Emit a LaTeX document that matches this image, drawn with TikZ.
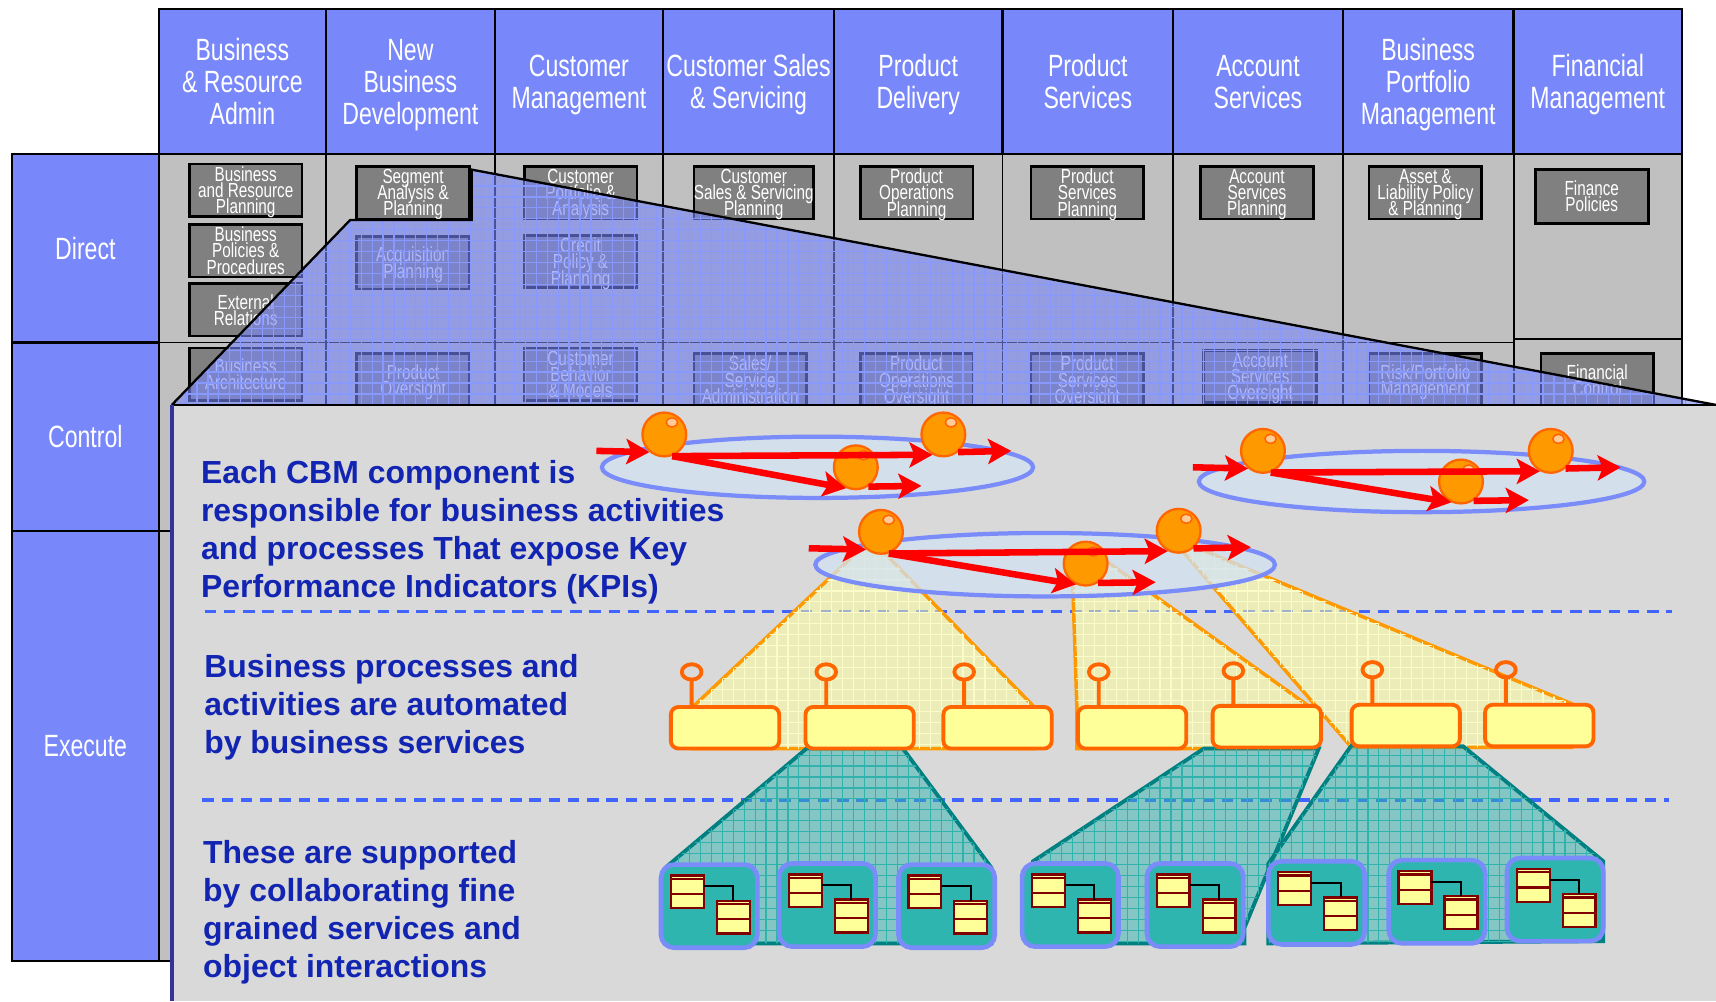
\documentclass[tikz,border=0pt]{standalone}
\usepackage{fontspec}
\setmainfont{Liberation Sans}
\newfontfamily\narrowfont[FakeStretch=0.75]{Liberation Sans}
\usepackage{xcolor}
\usepackage{tikz}
\usetikzlibrary{positioning,shapes.geometric,arrows.meta,calc}
\definecolor{headblue}{RGB}{120,135,250}
\definecolor{cellgray}{RGB}{192,192,192}
\definecolor{boxgray}{RGB}{128,128,128}
\definecolor{panelgray}{RGB}{217,217,217}
\definecolor{panelnavy}{RGB}{51,51,153}
\definecolor{ovlgrid}{RGB}{135,152,255}
\definecolor{textblue}{RGB}{18,36,178}
\definecolor{dashblue}{RGB}{64,100,255}
\definecolor{ringblue}{RGB}{122,140,250}
\definecolor{ringfill}{RGB}{210,226,242}
\definecolor{orbfill}{RGB}{255,153,0}
\definecolor{orbedge}{RGB}{255,102,0}
\definecolor{orbshine}{RGB}{255,204,153}
\definecolor{svcfill}{RGB}{255,255,153}
\definecolor{svcedge}{RGB}{255,102,0}
\definecolor{fanedge}{RGB}{255,153,0}
\definecolor{fangrid}{RGB}{252,252,200}
\definecolor{tealfill}{RGB}{46,181,176}
\definecolor{tealedge}{RGB}{0,128,128}
\definecolor{tealgrid}{RGB}{50,178,172}
\definecolor{clsedge}{RGB}{128,0,0}

\begin{document}
\begin{tikzpicture}[x=0.1mm, y=-0.1mm]
    \tikzstyle{rowlbl} = [rectangle, draw=black, fill=headblue, text=white, minimum width=13.4mm, line width=0.6pt, inner sep=0pt, outer sep=0pt, font={\narrowfont\fontsize{8}{8.3}\selectfont}]
    \tikzstyle{head} = [rectangle, draw=black, fill=headblue, text=white, align=center, text depth=0pt, minimum height=13.3mm, line width=0.6pt, inner sep=0pt, outer sep=0pt, font={\narrowfont\fontsize{8}{8.3}\selectfont}]
    \tikzstyle{cell} = [draw=black, fill=cellgray, line width=0.5pt]
    \tikzstyle{func} = [rectangle, draw=black, fill=boxgray, text=white, align=center, text depth=0pt, anchor=north west, minimum width=10.3mm, minimum height=4.8mm, line width=0.7pt, inner sep=0pt, outer sep=0pt, font={\narrowfont\fontsize{5.3}{4.2}\selectfont\lineskiplimit=-10pt}]
    \tikzstyle{ovlgridline} = [ovlgrid, line width=0.3pt, step=1mm]
    \tikzstyle{divider} = [dashblue, line width=0.85pt, dash pattern=on 3pt off 2pt]
    \tikzstyle{note} = [text=textblue, align=left, anchor=north west, inner sep=0pt, font={\bfseries\fontsize{8.3}{9.9}\selectfont}]
    \tikzstyle{svcfan} = [draw=fanedge, line width=0.9pt, fill=svcfill, fill opacity=0.5]
    \tikzstyle{fangridline} = [fangrid, line width=0.3pt, step=1mm]
    \tikzstyle{objfan} = [draw=tealedge, line width=1pt, fill=tealfill, fill opacity=0.5]
    \tikzstyle{tealgridline} = [tealgrid, line width=0.3pt, step=1mm]
    \tikzstyle{svc} = [rectangle, rounded corners=0.7mm, draw=svcedge, fill=svcfill, line width=1pt, anchor=north west, minimum width=9.9mm, minimum height=3.8mm, inner sep=0pt, outer sep=0pt]
    \tikzstyle{pin} = [svcedge, line width=1pt]
    \tikzstyle{module} = [rectangle, rounded corners=1.2mm, draw=ringblue, fill=tealfill, line width=1.2pt, anchor=north west, minimum width=8.8mm, minimum height=7.6mm, inner sep=0pt, outer sep=0pt]
    \tikzstyle{cls} = [draw=clsedge, fill=svcfill, line width=0.6pt]
    \tikzstyle{assoc} = [black, line width=0.5pt]
    \tikzstyle{ring} = [ellipse, draw=ringblue, fill=ringfill, fill opacity=0.75, line width=1.1pt, inner sep=0pt]
    \tikzstyle{orb} = [circle, draw=orbedge, fill=orbfill, line width=0.6pt, minimum size=4mm, inner sep=0pt]
    \tikzstyle{shine} = [draw=orbedge, fill=orbshine, line width=0.4pt]
    \tikzstyle{flow} = [draw=red, line width=1.7pt, -{Stealth[length=6pt, width=6.5pt, inset=1.3pt]}]

    \useasboundingbox (0,0) rectangle (1568,915);

    % Management levels
    \node [rowlbl, minimum height=17.2mm, anchor=north west] (direct) at (11,141) {Direct};
    \node [rowlbl, minimum height=17.2mm, below=0pt of direct] (control) {Control};
    \node [rowlbl, minimum height=39.3mm, below=0pt of control] (execute) {Execute};

    % Competency columns
    \node [head, minimum width=15.3mm, anchor=north west] (bizAdmin) at (145,8) {Business\\\& Resource\\Admin};
    \node [head, minimum width=15.4mm, right=0pt of bizAdmin] (newBiz) {New\\Business\\Development};
    \node [head, minimum width=15.4mm, right=0pt of newBiz] (custMgmt) {Customer\\Management};
    \node [head, minimum width=15.6mm, right=0pt of custMgmt] (custSales) {Customer Sales\\\& Servicing};
    \node [head, minimum width=15.4mm, right=0pt of custSales] (prodDelivery) {Product\\Delivery};
    \node [head, minimum width=15.6mm, right=0pt of prodDelivery] (prodServices) {Product\\Services};
    \node [head, minimum width=15.5mm, right=0pt of prodServices] (acctServices) {Account\\Services};
    \node [head, minimum width=15.6mm, right=0pt of acctServices] (portfolio) {Business\\Portfolio\\Management};
    \node [head, minimum width=15.4mm, right=0pt of portfolio] (finMgmt) {Financial\\Management};

    % Grid cells
    \foreach \a/\b/\m in {145/298/313, 298/452/313, 452/606/313, 606/762/313, 762/916/313, 916/1072/313, 1072/1227/313, 1227/1383/313, 1383/1537/310} {
        \draw[cell] (\a,141) rectangle (\b,\m);
        \draw[cell] (\a,\m) rectangle (\b,485);
        \draw[cell] (\a,485) rectangle (\b,878);
    }

    % Direct components
    \node [func] (bizPlanning) at (173,150) {Business\\and Resource\\Planning};
    \node [func] (bizPolicies) at (173,205) {Business\\Policies \&\\Procedures};
    \node [func] (extRelations) at (173,259) {External\\Relations};
    \node [func] (segment) at (326,152) {Segment\\Analysis \&\\Planning};
    \node [func] (acquisition) at (326,216) {Acquisition\\Planning};
    \node [func] (custPortfolio) at (479,152) {Customer\\Portfolio \&\\Analysis};
    \node [func] (credit) at (479,215) {Credit\\Policy \&\\Planning};
    \node [func] (salesPlanning) at (634,152) {Customer\\Sales \& Servicing\\Planning};
    \node [func] (opsPlanning) at (786,152) {Product\\Operations\\Planning};
    \node [func] (svcPlanning) at (942,152) {Product\\Services\\Planning};
    \node [func] (acctPlanning) at (1097,152) {Account\\Services\\Planning};
    \node [func] (assetPlanning) at (1251,152) {Asset \&\\Liability Policy\\\& Planning};
    \node [func, minimum height=4.9mm] (finPolicies) at (1403,155) {Finance\\Policies};

    % Control components
    \node [func] (bizArch) at (173,318) {Business\\Architecture};
    \node [func] (prodOversight) at (326,323) {Product\\Oversight};
    \node [func] (custBehavior) at (479,318) {Customer\\Behavior\\\& Models};
    \node [func] (salesAdmin) at (634,323) {Sales/\\Service\\Administration};
    \node [func] (opsOversight) at (786,323) {Product\\Operations\\Oversight};
    \node [func] (svcOversight) at (942,323) {Product\\Services\\Oversight};
    \node [func] (acctOversight) at (1100,320) {Account\\Services\\Oversight};
    \node [func] (riskMgmt) at (1251,323) {Risk/Portfolio\\Management};
    \node [func] (finControl) at (1408,323) {Financial\\Control};

    % Zoom out of the segment component
    \begin{scope}
        \clip (157,370) -- (320,201) -- (431,201) -- (431,155) -- (1568,370) -- cycle;
        \fill[headblue, fill opacity=0.6] (150,150) rectangle (1570,372);
        \draw[ovlgridline] (150,150) grid (1570,372);
    \end{scope}
    \draw[black, line width=0.6pt] (157,370) -- (320,201) -- (431,201) -- (431,155) -- (1568,370);

    % Detail panel
    \fill[panelgray] (157,370) rectangle (1568,915);
    \draw[black, line width=0.6pt] (157,370) -- (1568,370);
    \draw[panelnavy, line width=1.1pt] (157,370) -- (157,915);
    \draw[divider] (187,559) -- (1528,559);
    \draw[divider] (185,731) -- (1525,731);

    % Layer descriptions
    \node [note] (kpiNote) at (183,420) {Each CBM component is\\responsible for business activities\\and processes That expose Key\\Performance Indicators (KPIs)};
    \node [note] (svcNote) at (186,597) {Business processes and\\activities are automated\\by business services};
    \node [note] (objNote) at (185,767) {These are supported\\by collaborating fine\\grained services and\\object interactions};

    % Activities fanning out to services
    \foreach \area in {{(788,500) -- (803,500) -- (945,646) -- (945,684) -- (633,684) -- (633,646) -- cycle},
                       {(980,528) -- (1010,512) -- (1197,646) -- (1197,684) -- (984,684) -- (984,646) -- cycle},
                       {(1080,503) -- (1090,499) -- (1436,643) -- (1436,683) -- (1235,683) -- cycle}} {
        \path[svcfan] \area;
        \begin{scope}
            \clip \area;
            \draw[fangridline] (600,490) grid (1450,690);
        \end{scope}
    }

    % Services fanning out to objects
    \foreach \area in {{(737,684) -- (825,684) -- (906,793) -- (906,862) -- (609,862) -- (609,792) -- cycle},
                       {(1100,684) -- (1205,684) -- (1137,848) -- (1137,862) -- (944,862) -- (944,787) -- cycle},
                       {(1235,681) -- (1337,682) -- (1465,787) -- (1465,860) -- (1159,862) -- (1159,789) -- cycle}} {
        \path[objfan] \area;
        \begin{scope}
            \clip \area;
            \draw[tealgridline] (600,680) grid (1470,870);
        \end{scope}
    }

    % Business services
    \foreach \n/\x/\y in {1/613/646, 2/736/646, 3/862/646, 4/985/646, 5/1108/645, 6/1235/644, 7/1357/644}
        \node [svc] (svc\n) at (\x,\y) {};
    \foreach \n in {1,...,7}
        \draw[pin] ($(svc\n.north west)+(19,0)$) -- ++(0,-25) ++(0,-7) ellipse [x radius=9, y radius=7];

    % Fine grained object modules
    \foreach \n/\x/\y in {1/604/790, 2/712/789, 3/821/790, 4/934/789, 5/1048/789, 6/1159/787, 7/1269/786, 8/1377/784}
        \node [module] (mod\n) at (\x,\y) {};
    \foreach \n in {1,...,8} {
        \begin{scope}[shift={(mod\n.north west)}]
            \draw[cls] (9,10) rectangle (39,40);
            \draw[cls] (9,13) -- (39,13);
            \draw[cls] (9,27) -- (39,27);
            \draw[cls] (51,33) rectangle (81,63);
            \draw[cls] (51,36) -- (81,36);
            \draw[cls] (51,50) -- (81,50);
            \draw[assoc] (39,20) -| (66,33);
        \end{scope}
    }

    % Components with their activities
    \node [ring, minimum width=39.4mm, minimum height=5.6mm] (ringA) at (747,427) {};
    \node [ring, minimum width=40.7mm, minimum height=5.6mm] (ringB) at (1299,440) {};
    \node [ring, minimum width=42mm, minimum height=5.8mm] (ringC) at (955,516) {};

    \node [orb] (oA1) at (607,397) {};
    \node [orb] (oA2) at (782,427) {};
    \node [orb] (oA3) at (862,397) {};
    \node [orb] (oB1) at (1154,412) {};
    \node [orb] (oB2) at (1335,440) {};
    \node [orb] (oB3) at (1417,412) {};
    \node [orb] (oC1) at (805,486) {};
    \node [orb] (oC2) at (992,515) {};
    \node [orb] (oC3) at (1077,485) {};
    \foreach \o in {oA1,oA2,oA3,oB1,oB2,oB3,oC1,oC2,oC3}
        \filldraw[shine] ($(\o.center)+(7,-11)$) ellipse [x radius=5.2, y radius=4.2];

    % Process flows
    \coordinate (inA) at (545,412);
    \coordinate (outA2) at (842,444);
    \coordinate (outA3) at (924,412);
    \draw[flow] (inA) -- (oA1.-130);
    \draw[flow] (oA1.-70) -- (oA3.-118);
    \draw[flow] (oA1.-70) -- (oA2.-115);
    \draw[flow] (oA2.-57) -- (outA2);
    \draw[flow] (oA3.-50) -- (outA3);

    \coordinate (inB) at (1090,427);
    \coordinate (outB2) at (1397,457);
    \coordinate (outB3) at (1481,427);
    \draw[flow] (inB) -- (oB1.-130);
    \draw[flow] (oB1.-70) -- (oB3.-118);
    \draw[flow] (oB1.-70) -- (oB2.-115);
    \draw[flow] (oB2.-57) -- (outB2);
    \draw[flow] (oB3.-50) -- (outB3);

    \coordinate (inC) at (739,501);
    \coordinate (outC2) at (1056,532);
    \coordinate (outC3) at (1143,500);
    \draw[flow] (inC) -- (oC1.-130);
    \draw[flow] (oC1.-70) -- (oC3.-118);
    \draw[flow] (oC1.-70) -- (oC2.-115);
    \draw[flow] (oC2.-57) -- (outC2);
    \draw[flow] (oC3.-50) -- (outC3);
\end{tikzpicture}
\end{document}
